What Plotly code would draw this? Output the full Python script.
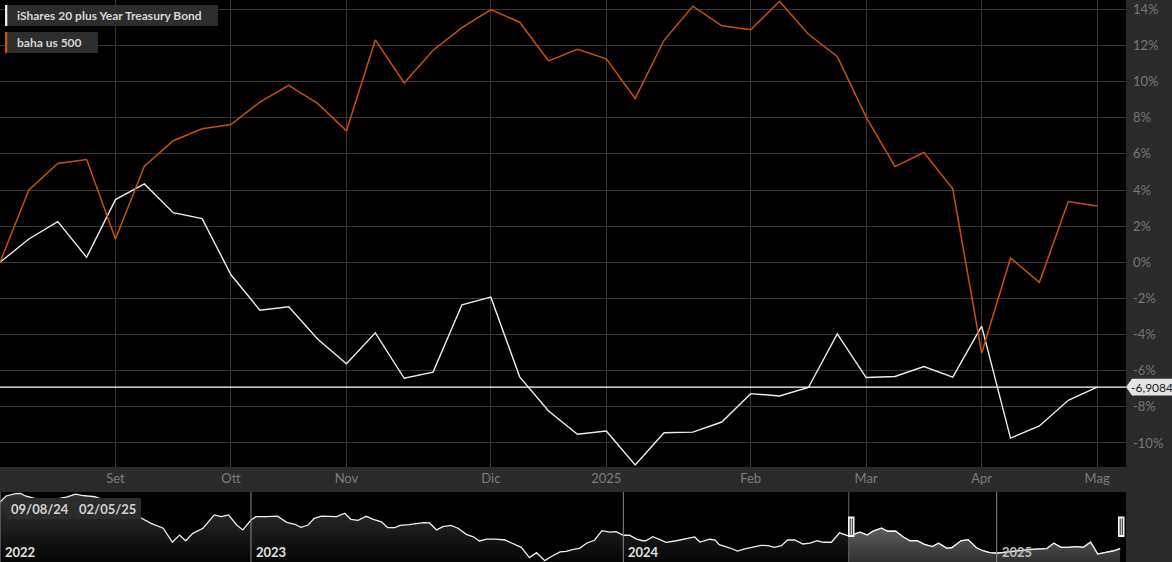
import plotly.graph_objects as go

# ---------------- data ----------------
dates = ["2024-08-09", "2024-08-16", "2024-08-23", "2024-08-30", "2024-09-06", "2024-09-13",
         "2024-09-20", "2024-09-27", "2024-10-04", "2024-10-11", "2024-10-18", "2024-10-25",
         "2024-11-01", "2024-11-08", "2024-11-15", "2024-11-22", "2024-11-29", "2024-12-06",
         "2024-12-13", "2024-12-20", "2024-12-27", "2025-01-03", "2025-01-10", "2025-01-17",
         "2025-01-24", "2025-01-31", "2025-02-07", "2025-02-14", "2025-02-21", "2025-02-28",
         "2025-03-07", "2025-03-14", "2025-03-21", "2025-03-28", "2025-04-04", "2025-04-11",
         "2025-04-18", "2025-04-25", "2025-05-02"]
ishares = [0, 1.29, 2.25, 0.28, 3.47, 4.34, 2.75, 2.42, -0.69, -2.65, -2.46, -4.25,
           -5.62, -3.90, -6.42, -6.08, -2.35, -1.93, -6.34, -8.23, -9.52, -9.34, -11.22, -9.43,
           -9.40, -8.84, -7.27, -7.40, -6.93, -3.96, -6.38, -6.32, -5.77, -6.36, -3.53, -9.73,
           -9.06, -7.64, -6.9084]
baha = [0, 4.01, 5.47, 5.69, 1.29, 5.32, 6.73, 7.39, 7.63, 8.87, 9.80, 8.80,
        7.28, 12.31, 9.93, 11.74, 12.99, 13.99, 13.29, 11.15, 11.79, 11.26, 9.07, 12.29,
        14.18, 13.09, 12.87, 14.45, 12.62, 11.40, 8.04, 5.30, 6.08, 4.07, -5.03, 0.24,
        -1.11, 3.36, 3.12]
series_names = ["iShares 20 plus Year Treasury Bond", "baha us 500"]

month_tick_dates = ["2024-09-06", "2024-10-04", "2024-11-01", "2024-12-06", "2025-01-03",
                    "2025-02-07", "2025-03-07", "2025-04-04", "2025-05-02"]
month_tick_labels = ["Set", "Ott", "Nov", "Dic", "2025", "Feb", "Mar", "Apr", "Mag"]
y_tick_vals = [-10, -8, -6, -4, -2, 0, 2, 4, 6, 8, 10, 12, 14]
y_tick_text = [f"{v}%" for v in y_tick_vals]

# navigator (long history of the iShares series)
nav_dates = ["2022-04-30", "2022-05-06", "2022-05-15", "2022-05-20", "2022-05-25", "2022-06-08",
             "2022-06-24", "2022-07-05", "2022-07-13", "2022-07-19", "2022-08-01", "2022-08-15",
             "2022-08-28", "2022-09-07", "2022-09-14", "2022-09-25", "2022-10-07", "2022-10-16",
             "2022-10-23", "2022-10-29", "2022-11-05", "2022-11-15", "2022-11-26", "2022-12-03",
             "2022-12-10", "2022-12-18", "2022-12-24", "2023-01-01", "2023-01-06", "2023-01-16",
             "2023-01-27", "2023-02-05", "2023-02-13", "2023-02-19", "2023-02-26", "2023-03-04",
             "2023-03-11", "2023-03-26", "2023-04-03", "2023-04-09", "2023-04-16", "2023-04-24",
             "2023-05-01", "2023-05-09", "2023-05-15", "2023-05-22", "2023-05-27", "2023-06-05",
             "2023-06-12", "2023-06-19", "2023-06-25", "2023-07-02", "2023-07-08", "2023-07-16",
             "2023-07-23", "2023-07-31", "2023-08-07", "2023-08-13", "2023-08-20", "2023-08-29",
             "2023-09-07", "2023-09-16", "2023-09-23", "2023-10-01", "2023-10-08", "2023-10-16",
             "2023-10-22", "2023-10-31", "2023-11-06", "2023-11-13", "2023-11-19", "2023-11-26",
             "2023-12-04", "2023-12-11", "2023-12-19", "2023-12-25", "2024-01-01", "2024-01-07",
             "2024-01-14", "2024-01-20", "2024-01-23", "2024-01-30", "2024-02-06", "2024-02-12",
             "2024-02-22", "2024-03-03", "2024-03-11", "2024-03-16", "2024-03-26", "2024-03-31",
             "2024-04-04", "2024-04-14", "2024-04-22", "2024-04-29", "2024-05-07", "2024-05-15",
             "2024-05-22", "2024-05-28", "2024-06-04", "2024-06-10", "2024-06-17", "2024-06-25",
             "2024-07-02", "2024-07-09", "2024-07-15", "2024-07-23", "2024-07-31", "2024-08-09",
             "2024-08-12", "2024-08-20", "2024-08-27", "2024-09-02", "2024-09-10", "2024-09-16",
             "2024-09-24", "2024-10-01", "2024-10-08", "2024-10-15", "2024-10-22", "2024-10-30",
             "2024-11-05", "2024-11-13", "2024-11-18", "2024-11-27", "2024-12-04", "2024-12-12",
             "2024-12-19", "2024-12-25", "2025-01-01", "2025-01-07", "2025-01-17", "2025-01-27",
             "2025-02-05", "2025-02-19", "2025-02-26", "2025-03-05", "2025-03-13", "2025-03-20",
             "2025-03-27", "2025-04-03", "2025-04-10", "2025-04-25", "2025-05-02"]
nav_prices = [114.9, 118.1, 119.3, 119.5, 118.1, 116.0,
              116.5, 117.6, 119.1, 118.4, 117.7, 114.9,
              111.8, 109.1, 106.9, 103.7, 101.1, 93.7,
              97.5, 94.5, 98.4, 101.1, 108.1, 107.2,
              108.1, 102.8, 100.2, 105.4, 107.2, 107.2,
              107.5, 104.2, 103.2, 101.6, 102.8, 106.3,
              107.5, 107.2, 109.0, 105.8, 105.3, 107.4,
              105.8, 104.5, 101.4, 101.4, 102.6, 103.0,
              103.5, 104.0, 103.9, 100.2, 101.9, 102.6,
              101.1, 97.9, 96.6, 94.4, 95.4, 95.4,
              94.9, 92.8, 91.0, 85.6, 88.2, 84.0,
              86.1, 88.6, 88.9, 90.0, 90.5, 93.2,
              94.9, 99.8, 99.1, 99.3, 97.4, 97.5,
              95.4, 94.5, 94.5, 96.6, 94.9, 93.7,
              94.5, 95.4, 96.5, 93.8, 95.3, 94.9,
              92.4, 90.8, 89.1, 90.2, 91.0, 92.1,
              91.9, 91.0, 91.9, 94.9, 94.9, 92.8,
              93.2, 94.5, 93.7, 93.7, 98.7, 97.0,
              97.5, 99.0, 97.5, 99.6, 101.1, 99.5,
              99.5, 96.6, 94.5, 94.5, 92.6, 91.4,
              93.2, 90.5, 90.8, 94.5, 95.1, 90.8,
              89.1, 88.2, 87.9, 88.2, 89.1, 89.6,
              90.0, 90.3, 93.2, 91.0, 91.0, 91.4,
              91.0, 93.7, 87.5, 89.1, 90.3]
year_labels = ["2022", "2023", "2024", "2025"]
year_dates = ["2022-04-30", "2023-01-01", "2024-01-01", "2025-01-01"]
range_labels = ["09/08/24", "02/05/25"]

# ---------------- layout geometry ----------------
W, H = 1172, 562
PLOT_R = 1126
MAIN_B = 467
NAV_T = 492
Y_MIN, Y_MAX = -11.33, 14.52
NAV_MIN, NAV_MAX = 83.3, 120.2
PX_PER_PCT = MAIN_B / (Y_MAX - Y_MIN)

def px(x):
    return x / W

def py(y):
    return 1 - y / H

FONT = "Lato"
WHITE = "#ececec"
ORANGE = "#cc5200"
GRID = "#363636"
BAND = "#2b2b2b"

fig = go.Figure()

# main series
fig.add_trace(go.Scatter(x=dates, y=ishares, mode="lines", name=series_names[0],
                         line=dict(color=WHITE, width=1.4), xaxis="x", yaxis="y"))
fig.add_trace(go.Scatter(x=dates, y=baha, mode="lines", name=series_names[1],
                         line=dict(color=ORANGE, width=1.5), xaxis="x", yaxis="y"))

# navigator: full history
fig.add_trace(go.Scatter(x=nav_dates, y=nav_prices, mode="lines", fill="tozeroy",
                         line=dict(color="#f0f0f0", width=1.3),
                         fillgradient=dict(type="vertical",
                                           colorscale=[[0, "#050505"], [1, "#363636"]],
                                           start=NAV_MIN, stop=NAV_MAX),
                         xaxis="x2", yaxis="y2", hoverinfo="skip"))
# navigator: selected window
sel = [(d, p) for d, p in zip(nav_dates, nav_prices) if dates[0] <= d <= dates[-1]]
fig.add_trace(go.Scatter(x=[d for d, _ in sel], y=[p for _, p in sel], mode="lines",
                         fill="tozeroy", line=dict(color="#f0f0f0", width=1.3),
                         fillgradient=dict(type="vertical",
                                           colorscale=[[0, "#303030"], [1, "#5e5e5e"]],
                                           start=NAV_MIN, stop=max(p for _, p in sel)),
                         xaxis="x2", yaxis="y2", hoverinfo="skip"))

shapes = []
annotations = []

# last-value horizontal line
last = ishares[-1]
shapes.append(dict(type="line", xref="paper", yref="y", x0=0, x1=px(PLOT_R), y0=last, y1=last,
                   line=dict(color="#ffffff", width=1.2), layer="above"))
h = 8.3 / PX_PER_PCT
shapes.append(dict(type="path", xref="paper", yref="y",
                   path=(f"M {px(PLOT_R)},{last} L {px(PLOT_R + 6)},{last + h} L 1,{last + h} "
                         f"L 1,{last - h} L {px(PLOT_R + 6)},{last - h} Z"),
                   fillcolor="#e4e4e4", line=dict(width=0), layer="above"))
annotations.append(dict(xref="paper", yref="y", x=px(PLOT_R + 3), y=last, xanchor="left",
                        yanchor="middle", showarrow=False,
                        text=f"{last:.4f}".replace(".", ","),
                        font=dict(family=FONT, size=12, color="#1a1a1a")))

# legend boxes
legend_boxes = [(5, 218, 5, 26, WHITE), (5, 98, 32, 53, ORANGE)]
for name, (x0, x1, y0, y1, col) in zip(series_names, legend_boxes):
    shapes.append(dict(type="rect", xref="paper", yref="paper", x0=px(x0), x1=px(x1),
                       y0=py(y1), y1=py(y0), fillcolor="#2e2e2e", line=dict(width=0),
                       layer="above"))
    shapes.append(dict(type="rect", xref="paper", yref="paper", x0=px(x0), x1=px(x0 + 2.3),
                       y0=py(y1), y1=py(y0), fillcolor=col, line=dict(width=0), layer="above"))
    annotations.append(dict(xref="paper", yref="paper", x=px(15), y=py((y0 + y1) / 2),
                            xanchor="left", yanchor="middle", showarrow=False, text=f"<b>{name}</b>",
                            font=dict(family=FONT, size=12, color="#d6d6d6")))

# navigator year lines and labels
for lab, d in zip(year_labels, year_dates):
    shapes.append(dict(type="line", xref="x2", yref="paper", x0=d, x1=d, y0=0, y1=py(NAV_T),
                       line=dict(color="#8a8a8a", width=1), layer="above"))
    annotations.append(dict(xref="x2", yref="paper", x=d, y=py(552), xanchor="left",
                            yanchor="middle", xshift=3, showarrow=False, text=f"<b>{lab}</b>",
                            font=dict(family=FONT, size=13,
                                      color="#bdbdbd" if d >= dates[0] else "#e2e2e2")))

# selection boundary & handles
shapes.append(dict(type="line", xref="x2", yref="paper", x0=dates[0], x1=dates[0], y0=0,
                   y1=py(NAV_T), line=dict(color="#6a6a6a", width=1), layer="above"))
for hx in (848, 1118):
    shapes.append(dict(type="rect", xref="paper", yref="paper", x0=px(hx), x1=px(hx + 6.5),
                       y0=py(537), y1=py(516.5), fillcolor="#f4f4f4", line=dict(width=0),
                       layer="above"))
    for off in (2.2, 4.3):
        shapes.append(dict(type="line", xref="paper", yref="paper", x0=px(hx + off),
                           x1=px(hx + off), y0=py(535), y1=py(518.5),
                           line=dict(color="#222222", width=1), layer="above"))

# range date boxes
for lab, (x0, x1) in zip(range_labels, [(6, 73), (74, 141)]):
    shapes.append(dict(type="rect", xref="paper", yref="paper", x0=px(x0), x1=px(x1),
                       y0=py(519), y1=py(498), fillcolor="#2c2c2c", line=dict(width=0),
                       layer="above"))
    annotations.append(dict(xref="paper", yref="paper", x=px((x0 + x1) / 2), y=py(508.5),
                            xanchor="center", yanchor="middle", showarrow=False,
                            text=f"<b>{lab}</b>",
                            font=dict(family=FONT, size=13, color="#d4d4d4")))

fig.update_layout(
    width=W, height=H,
    margin=dict(l=0, r=0, t=0, b=0),
    paper_bgcolor=BAND,
    plot_bgcolor="#000000",
    showlegend=False,
    hovermode=False,
    font=dict(family=FONT),
    shapes=shapes,
    annotations=annotations,
    xaxis=dict(domain=[0, px(PLOT_R)], anchor="y", type="date",
               range=["2024-08-09", "2025-05-09"],
               tickmode="array", tickvals=month_tick_dates, ticktext=month_tick_labels,
               showgrid=True, gridcolor=GRID, gridwidth=1, ticks="", showline=False,
               zeroline=False, automargin=False, ticklabelstandoff=2,
               tickfont=dict(family=FONT, size=13, color="#7c7c7c")),
    yaxis=dict(domain=[py(MAIN_B), 1], anchor="x", side="right",
               range=[Y_MIN, Y_MAX], tickmode="array", tickvals=y_tick_vals,
               ticktext=y_tick_text, showgrid=True, gridcolor=GRID, gridwidth=1,
               zeroline=False, ticks="", showline=False, automargin=False,
               ticklabelstandoff=6,
               tickfont=dict(family=FONT, size=13, color="#777777")),
    xaxis2=dict(domain=[0, px(PLOT_R)], anchor="y2", type="date",
                range=["2022-04-30", "2025-05-07 18:00"], showgrid=False,
                showticklabels=False, ticks="", zeroline=False, showline=False,
                automargin=False),
    yaxis2=dict(domain=[0, py(NAV_T)], anchor="x2", range=[NAV_MIN, NAV_MAX],
                showgrid=False, showticklabels=False, ticks="", zeroline=False,
                showline=False, automargin=False),
)

fig.write_html("out.html", config={"displayModeBar": False},
               post_script="document.body.style.margin='0';document.body.style.padding='0';")
